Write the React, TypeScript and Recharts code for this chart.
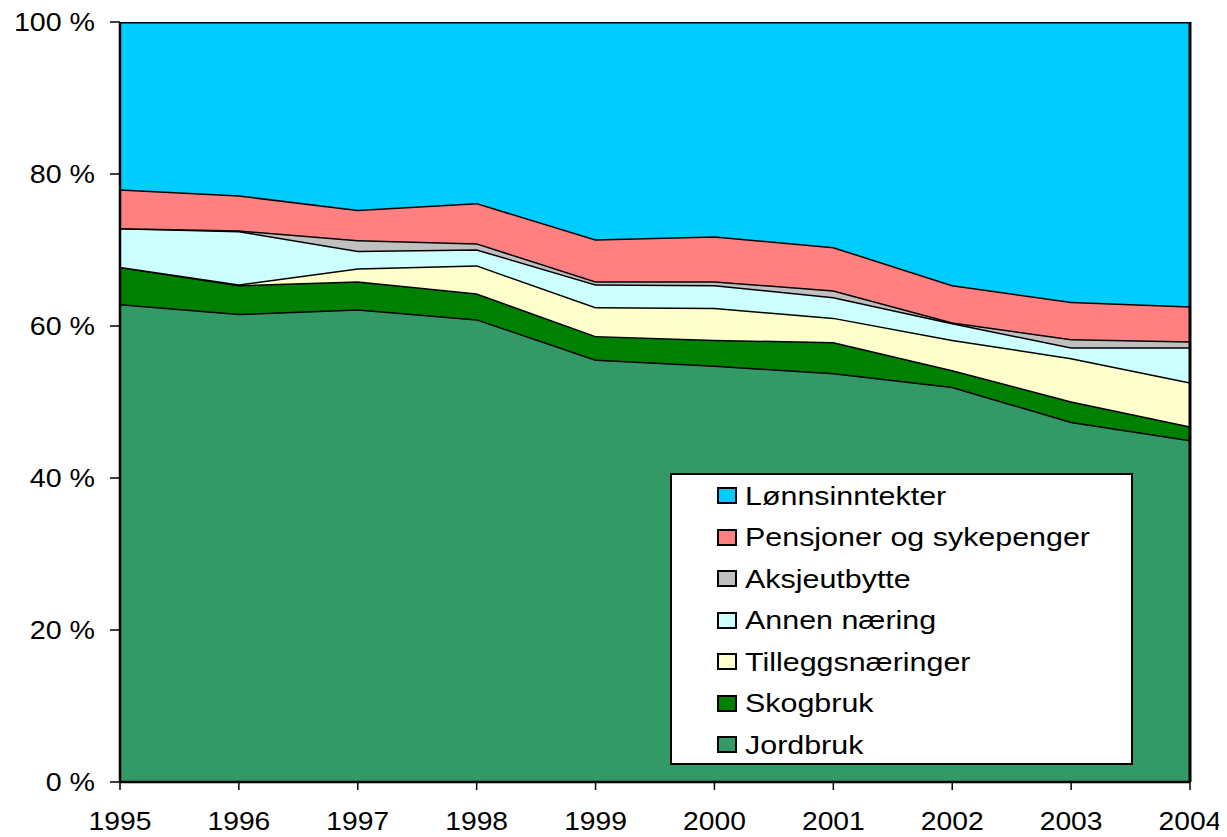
import React from 'react';
import { AreaChart, Area, XAxis, YAxis, Legend, ReferenceLine } from 'recharts';

const years = ['1995', '1996', '1997', '1998', '1999', '2000', '2001', '2002', '2003', '2004'];
const jordbruk = [62.9, 61.6, 62.2, 60.9, 55.6, 54.8, 53.8, 52.0, 47.4, 45.0];
const skogbruk = [4.9, 3.8, 3.7, 3.4, 3.1, 3.4, 4.1, 2.2, 2.7, 1.8];
const tilleggsnaeringer = [0, 0.1, 1.7, 3.7, 3.8, 4.2, 3.2, 4.0, 5.7, 5.8];
const annenNaering = [5.1, 7.0, 2.3, 2.1, 3.0, 3.0, 2.7, 2.2, 1.4, 4.6];
const aksjeutbytte = [0, 0.1, 1.4, 0.8, 0.4, 0.5, 0.9, 0.1, 1.1, 0.8];
const pensjoner = [5.1, 4.6, 4.0, 5.3, 5.5, 5.9, 5.7, 4.9, 4.9, 4.6];
const lonnsinntekter = [22.0, 22.8, 24.7, 23.8, 28.6, 28.2, 29.6, 34.6, 36.8, 37.4];
const yTicks = [0, 20, 40, 60, 80, 100];

const seriesKeys = ['jordbruk', 'skogbruk', 'tillegg', 'annen', 'aksje', 'pensjon', 'lonn'];
const seriesNames = ['Jordbruk', 'Skogbruk', 'Tilleggsnæringer', 'Annen næring', 'Aksjeutbytte', 'Pensjoner og sykepenger', 'Lønnsinntekter'];
const seriesColors = ['#339966', '#008000', '#FFFFCC', '#CCFFFF', '#C0C0C0', '#FF8080', '#00CCFF'];
const seriesValues = [jordbruk, skogbruk, tilleggsnaeringer, annenNaering, aksjeutbytte, pensjoner, lonnsinntekter];

const data = years.map((year, i) => {
  const row: Record<string, string | number> = { year };
  seriesKeys.forEach((k, s) => {
    row[k] = seriesValues[s][i];
  });
  return row;
});

const FONT = '"Liberation Sans", Arial, Helvetica, sans-serif';

const YTick = (props: any) => {
  const { x, y, payload } = props;
  return (
    <text
      transform={`translate(${x},${y}) scale(1.1,1)`}
      textAnchor="end"
      dy="0.355em"
      fontSize={26}
      fontFamily={FONT}
      fill="#000"
    >
      {`${payload.value} %`}
    </text>
  );
};

const XTick = (props: any) => {
  const { x, y, payload } = props;
  return (
    <text
      transform={`translate(${x},${y}) scale(1.13,1)`}
      textAnchor="middle"
      dy="0.71em"
      fontSize={25}
      fontFamily={FONT}
      fill="#000"
    >
      {payload.value}
    </text>
  );
};

const LegendContent = (props: any) => {
  const payload = (props.payload || [])
    .slice()
    .sort((a: any, b: any) => seriesNames.indexOf(b.value) - seriesNames.indexOf(a.value));
  return (
    <div
      style={{
        width: 463,
        height: 292,
        boxSizing: 'border-box',
        border: '2px solid #000',
        background: '#fff',
        fontFamily: FONT,
      }}
    >
      {payload.map((entry: any) => {
        const idx = seriesNames.indexOf(entry.value);
        return (
          <div
            key={entry.value}
            style={{ height: 41.5, display: 'flex', alignItems: 'center', paddingLeft: 45 }}
          >
            <span
              style={{
                display: 'inline-block',
                width: 20,
                height: 17,
                boxSizing: 'border-box',
                border: '2px solid #000',
                background: seriesColors[idx],
                marginRight: 8,
              }}
            />
            <span
              style={{
                display: 'inline-block',
                fontSize: 26,
                color: '#000',
                transform: 'scale(1.17,1)',
                transformOrigin: 'left center',
                whiteSpace: 'nowrap',
                lineHeight: '26px',
              }}
            >
              {entry.value}
            </span>
          </div>
        );
      })}
    </div>
  );
};

export default function App() {
  return (
    <div style={{ width: 1219, height: 829 }}>
      <AreaChart
        width={1219}
        height={829}
        data={data}
        margin={{ top: 14, right: 37, bottom: 0, left: 0 }}
      >
        <XAxis
          dataKey="year"
          height={55}
          axisLine={{ stroke: '#000', strokeWidth: 2.5 }}
          tickLine={{ stroke: '#000', strokeWidth: 1.5 }}
          tickSize={8}
          tickMargin={22}
          tick={<XTick />}
          interval={0}
        />
        <YAxis
          width={112}
          domain={[0, 100]}
          ticks={yTicks}
          allowDataOverflow
          axisLine={{ stroke: '#000', strokeWidth: 2.5 }}
          tickLine={{ stroke: '#000', strokeWidth: 1.5 }}
          tickSize={10}
          tickMargin={15}
          tick={<YTick />}
        />
        {seriesKeys.map((k, s) => (
          <Area
            key={k}
            type="linear"
            dataKey={k}
            name={seriesNames[s]}
            stackId="1"
            fill={seriesColors[s]}
            fillOpacity={1}
            stroke="#000"
            strokeWidth={3}
            isAnimationActive={false}
            dot={false}
            activeDot={false}
          />
        ))}
        <ReferenceLine x="2004" stroke="#000" strokeWidth={3} />
        <Legend
          layout="vertical"
          align="center"
          verticalAlign="middle"
          itemSorter={null as any}
          wrapperStyle={{ left: 662, top: 465, width: 463, height: 292 }}
          content={<LegendContent />}
        />
      </AreaChart>
    </div>
  );
}
